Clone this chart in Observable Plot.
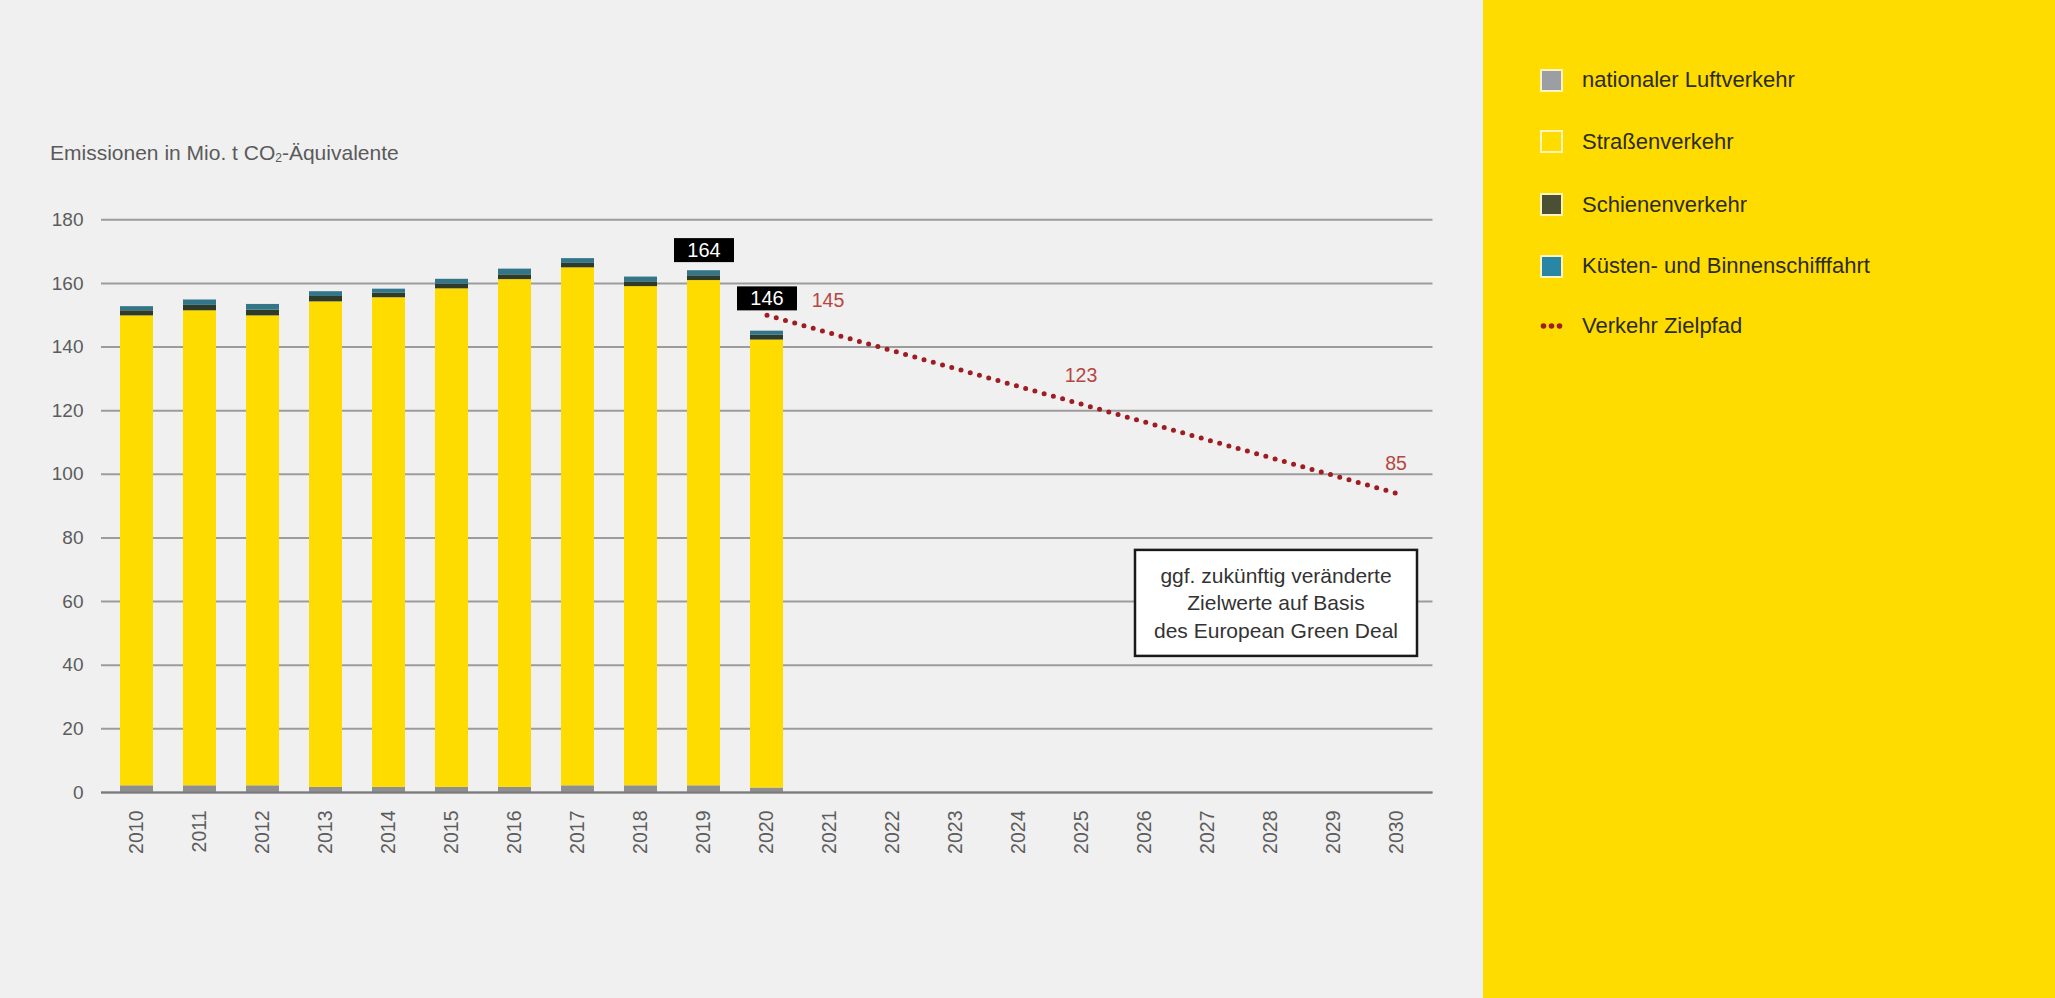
<!DOCTYPE html>
<html>
<head>
<meta charset="utf-8">
<script src="https://cdn.jsdelivr.net/npm/d3@7"></script>
<script src="https://cdn.jsdelivr.net/npm/@observablehq/plot@0.6"></script>
<style>
  html, body { margin: 0; padding: 0; }
  body { width: 2055px; height: 998px; background: #f0f0f0; position: relative; overflow: hidden;
         font-family: "Liberation Sans", Arial, sans-serif; }
  #panel { position: absolute; left: 1483px; top: 0; width: 572px; height: 998px; background: #ffdc00; }
  #ytitle { position: absolute; left: 50px; top: 141px; font-size: 21px; color: #5a5a5a; white-space: nowrap; }
  #chart { position: absolute; left: 0; top: 170px; }
  .legend-row { position: absolute; left: 1540px; height: 24px; display: flex; align-items: center;
                font-size: 22px; color: #2b2b1e; white-space: nowrap; }
  .sw { width: 19px; height: 19px; border: 2px solid #fff4bc; margin-right: 19px; box-sizing: content-box; }
  .dots { width: 23px; height: 8px; margin-right: 19px; }
</style>
</head>
<body>
<div id="panel"></div>
<div id="ytitle">Emissionen in Mio. t CO<sub style="font-size:12px;vertical-align:-2px">2</sub>-Äquivalente</div>
<div id="chart"></div>
<div id="legend"></div>
<script>
// ---------- data ----------
const years = ["2010","2011","2012","2013","2014","2015","2016","2017","2018","2019","2020"];
const axisYears = ["2010","2011","2012","2013","2014","2015","2016","2017","2018","2019","2020",
                   "2021","2022","2023","2024","2025","2026","2027","2028","2029","2030"];
const seriesNames = ["nationaler Luftverkehr","Straßenverkehr","Schienenverkehr","Küsten- und Binnenschifffahrt"];
const luftverkehr     = [2.1, 2.1, 2.1, 1.6, 1.6, 1.6, 1.6, 2.1, 2.1, 2.1, 1.4];
const strassenverkehr = [147.7, 149.3, 147.7, 152.6, 153.9, 156.7, 159.6, 162.8, 156.9, 158.8, 140.8];
const schienenverkehr = [1.6, 1.7, 1.8, 1.7, 1.4, 1.5, 1.5, 1.4, 1.5, 1.5, 1.5];
const schifffahrt     = [1.3, 1.7, 1.8, 1.5, 1.3, 1.5, 1.8, 1.5, 1.5, 1.6, 1.3];
const zielYears  = ["2020","2025","2030"];
const zielValues = [150, 122, 94];
const zielLabels = ["145","123","85"];
const totalYears  = ["2019","2020"];
const totalValues = [164, 146];
const yTicks = [0,20,40,60,80,100,120,140,160,180];
const noteText = "ggf. zukünftig veränderte\nZielwerte auf Basis\ndes European Green Deal";

// ---------- styles ----------
const seriesColors = ["#8f8f92", "#ffdc00", "#2f3b26", "#33768a"];
const legendColors = ["#9c9ea6", "#ffdc00", "#4b4f33", "#2a86a5"];
const zielColor = "#9e1c22";
const zielLabelColor = "#b5473f";
const zielLabelOffsets = [[61, -15], [-1, -29], [-1, -30]];
const totalLabelDy = [-20, -29];

// ---------- table ----------
const seriesValues = [luftverkehr, strassenverkehr, schienenverkehr, schifffahrt];
const rows = [];
years.forEach((y, i) => seriesNames.forEach((s, k) => rows.push({year: y, series: s, value: seriesValues[k][i]})));
const ziel = zielYears.map((y, i) => ({year: y, value: zielValues[i], label: zielLabels[i]}));
const totals = totalYears.map((y, i) => ({year: y, value: totalValues[i]}));

const marks = [
  Plot.gridY({ticks: yTicks, stroke: "#9c9c9c", strokeOpacity: 1, strokeWidth: 2}),
  Plot.barY(rows, {x: "year", y: "value", fill: "series", order: seriesNames}),
  Plot.ruleY([0], {stroke: "#7a7a7a", strokeWidth: 2}),
  Plot.axisY({ticks: yTicks, tickSize: 0, tickPadding: 18, label: null, fontSize: 19}),
  Plot.axisX({tickRotate: -90, tickSize: 0, tickPadding: 18, label: null, fontSize: 19.5}),
  Plot.line(ziel, {x: "year", y: "value", stroke: zielColor, strokeWidth: 5,
                   strokeLinecap: "round", strokeDasharray: "0 9.6"})
];
ziel.forEach((d, i) => {
  marks.push(Plot.text([d], {x: "year", y: "value", text: "label", fill: zielLabelColor,
    fontSize: 19.5, dx: zielLabelOffsets[i][0], dy: zielLabelOffsets[i][1]}));
});
totals.forEach((d, i) => {
  marks.push(Plot.text([d], {x: "year", y: "value", text: (t) => String(t.value), fill: "white",
    fontSize: 20, dy: totalLabelDy[i], ariaDescription: "valuebox"}));
});
marks.push(Plot.text([noteText], {x: () => "2028", y: () => 60, text: (t) => t, fill: "#333",
  fontSize: 21, lineHeight: 1.31, lineAnchor: "middle", dx: 5, ariaDescription: "notebox"}));

const plot = Plot.plot({
  width: 1483,
  height: 760,
  marginLeft: 101,
  marginRight: 50.5,
  marginTop: 49.3,
  marginBottom: 138,
  style: {fontFamily: "Liberation Sans, Arial, sans-serif", fontSize: "19px", background: "transparent", color: "#5c5c5c", overflow: "visible"},
  x: {type: "band", domain: axisYears, paddingInner: 0.48, paddingOuter: 0.24, align: 0.5},
  y: {domain: [0, 180], nice: false},
  color: {domain: seriesNames, range: seriesColors},
  marks
});
document.getElementById("chart").appendChild(plot);

function boxify(label, w, h, fill, stroke, sw) {
  plot.querySelectorAll(`g[aria-description="${label}"] text`).forEach(t => {
    const b = t.getBBox();
    const r = document.createElementNS("http://www.w3.org/2000/svg", "rect");
    r.setAttribute("x", b.x + b.width / 2 - w / 2);
    r.setAttribute("y", b.y + b.height / 2 - h / 2);
    r.setAttribute("width", w);
    r.setAttribute("height", h);
    r.setAttribute("fill", fill);
    if (stroke) { r.setAttribute("stroke", stroke); r.setAttribute("stroke-width", sw); }
    const tr = t.getAttribute("transform");
    if (tr) r.setAttribute("transform", tr);
    t.parentNode.insertBefore(r, t);
  });
}
boxify("valuebox", 60, 24, "#000");
boxify("notebox", 282, 106, "#fff", "#1a1a1a", 2.5);

// ---------- legend ----------
const legend = document.getElementById("legend");
const legendTops = [68, 129.5, 192.5, 254, 314];
seriesNames.forEach((s, i) => {
  const row = document.createElement("div");
  row.className = "legend-row";
  row.style.top = legendTops[i] + "px";
  const sw = document.createElement("div");
  sw.className = "sw";
  sw.style.background = legendColors[i];
  row.appendChild(sw);
  row.appendChild(document.createTextNode(s));
  legend.appendChild(row);
});
const zrow = document.createElement("div");
zrow.className = "legend-row";
zrow.style.top = legendTops[4] + "px";
zrow.innerHTML = `<svg class="dots" viewBox="0 0 23 8"><circle cx="3.5" cy="4" r="2.8" fill="${zielColor}"/><circle cx="11.5" cy="4" r="2.8" fill="${zielColor}"/><circle cx="19.5" cy="4" r="2.8" fill="${zielColor}"/></svg>`;
zrow.appendChild(document.createTextNode("Verkehr Zielpfad"));
legend.appendChild(zrow);
</script>
</body>
</html>
